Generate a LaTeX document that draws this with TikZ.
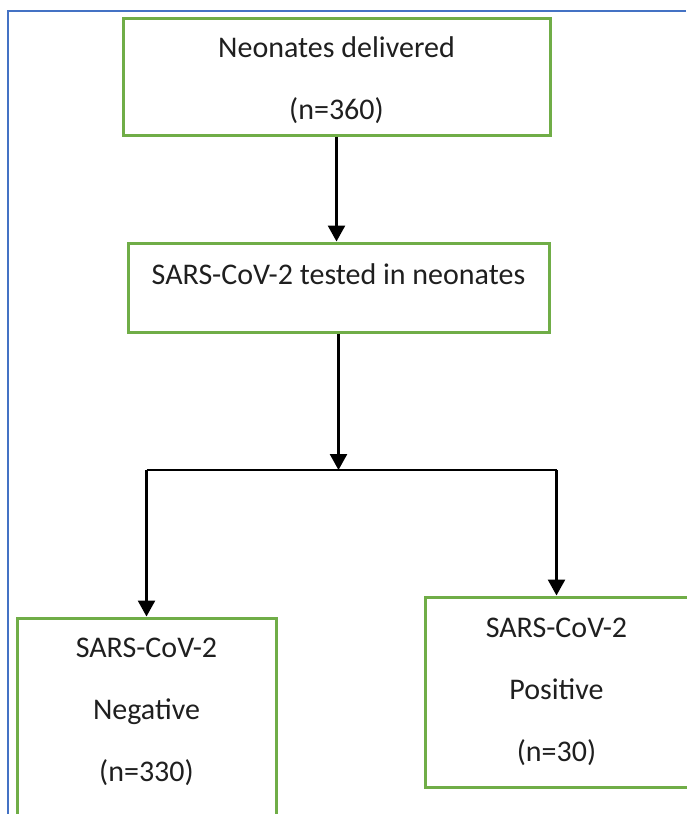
\documentclass[tikz,border=0pt]{standalone}
\usepackage{fontspec}
\setmainfont{Carlito}
\usetikzlibrary{arrows.meta,positioning}

\definecolor{boxgreen}{RGB}{112,173,71}
\definecolor{frameblue}{RGB}{68,114,196}

\begin{document}
\begin{tikzpicture}[x=1pt, y=-1pt,
    box/.style={rectangle, draw=boxgreen, line width=3pt, inner sep=0pt, align=center, text=black!88,
        font=\fontsize{30}{62}\selectfont},
    arrow/.style={line width=2.6pt, -{Triangle[length=16pt, width=17pt]}},
    link/.style={line width=2pt}]

    \useasboundingbox (0,0) rectangle (686,814);
    % frame of the figure
    \draw[frameblue, line width=1.5pt] (686,11) -- (8,11) -- (8,814);

    \node[box, minimum width=427pt, minimum height=117pt, text height=96pt, text depth=10pt] (deliv) at (336.5,76.5)
        {Neonates delivered\\(n=360)};
    \node[box, minimum width=421pt, minimum height=89pt, text depth=26pt] (tested) at (338.5,287.5)
        {SARS-CoV-2 tested in neonates};
    \node[box, minimum width=259pt, minimum height=212pt, text height=154pt, text depth=40pt] (neg) at (146.5,724)
        {SARS-CoV-2\\Negative\\(n=330)};
    \node[box, minimum width=263pt, minimum height=190pt] (pos) at (556.5,692)
        {SARS-CoV-2\\Positive\\(n=30)};

    \coordinate (split) at (338.5,470);

    % connectors
    \draw[arrow] (deliv.south) -- (deliv.south |- tested.north);
    \draw[arrow] (tested.south) -- (split);
    \draw[link] (neg.north |- split) -- (pos.north |- split);
    \draw[arrow] (neg.north |- split) -- (neg.north);
    \draw[arrow] (pos.north |- split) -- (pos.north);

\end{tikzpicture}
\end{document}
